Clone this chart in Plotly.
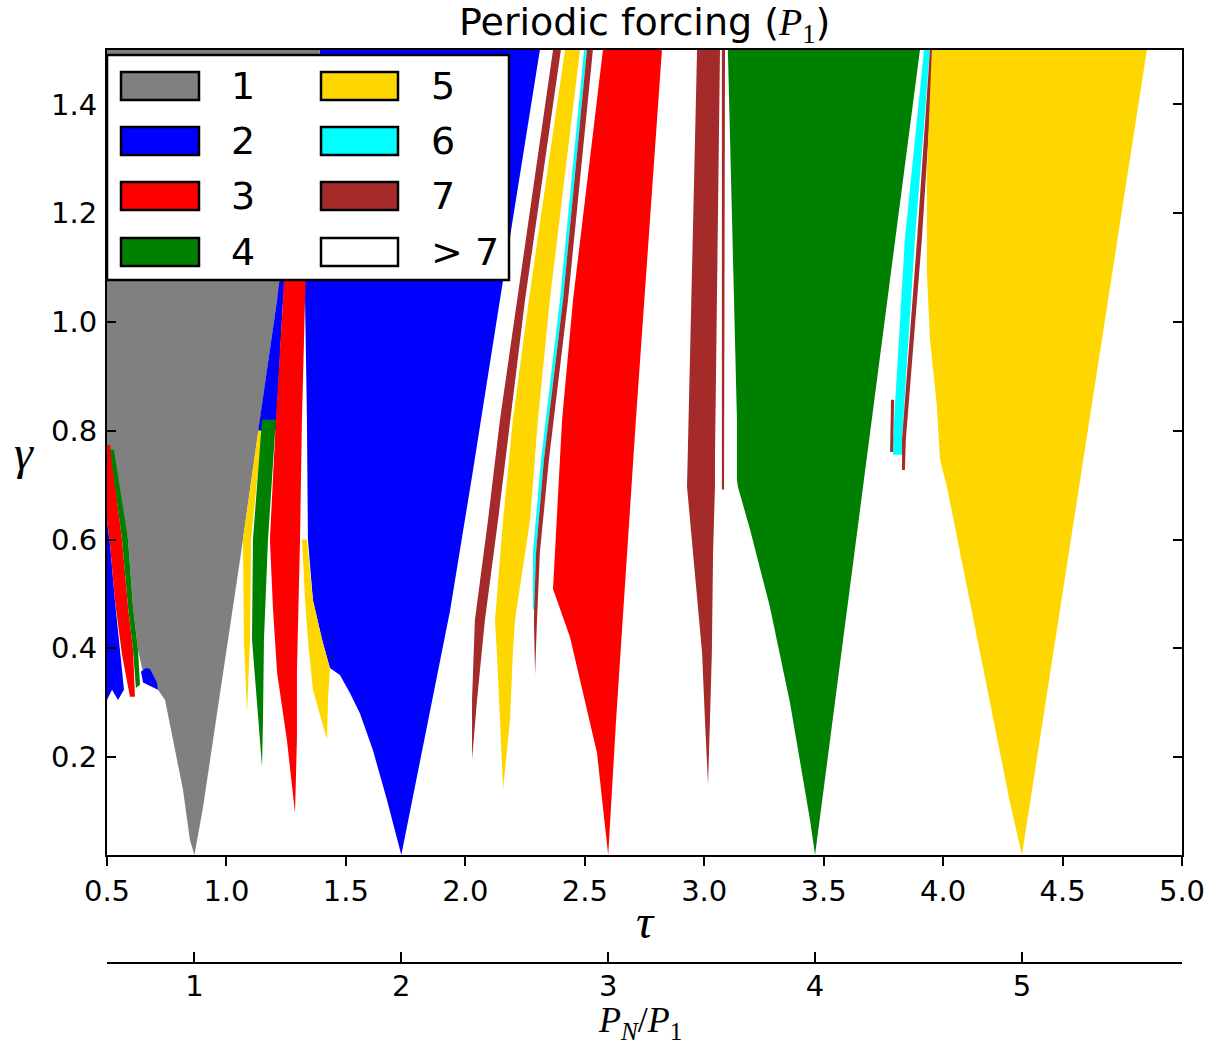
import numpy as np
import plotly.graph_objects as go

# ---------------------------------------------------------------------------
# Colour code for the number of periods of the response
# ---------------------------------------------------------------------------
period_labels = ["1", "2", "3", "4", "5", "6", "7", "> 7"]
period_colors = ["#808080", "#0000ff", "#ff0000", "#008000",
                 "#ffd700", "#00ffff", "#a52a2a", "#ffffff"]

# Axes
tau_range = [0.5, 5.0]
gamma_range = [0.02, 1.5]
tau_ticks = [0.5, 1.0, 1.5, 2.0, 2.5, 3.0, 3.5, 4.0, 4.5, 5.0]
gamma_ticks = [0.2, 0.4, 0.6, 0.8, 1.0, 1.2, 1.4]
ratio_ticks = [1, 2, 3, 4, 5]          # P_N / P_1
ratio_tip_gamma = [0.02, 0.02, 0.02, 0.02, 0.02]

# ---------------------------------------------------------------------------
# Locking regions: boundary polygons in the (tau, gamma) plane
# ---------------------------------------------------------------------------
# 1:1 tongue
p1_tau = [0.5, 1.392, 1.212, 1.057, 0.986, 0.944, 0.902, 0.866, 0.847, 0.818,
          0.776, 0.743, 0.713, 0.680, 0.651, 0.630, 0.609, 0.588, 0.5]
p1_gamma = [1.5, 1.5, 1.041, 0.563, 0.355, 0.232, 0.108, 0.02, 0.048, 0.140,
            0.232, 0.305, 0.324, 0.342, 0.355, 0.397, 0.476, 0.600, 0.774]

# 2:1 tongue
p2_tau = [1.392, 2.312, 2.145, 2.032, 1.936, 1.823, 1.732, 1.672, 1.613, 1.559,
          1.517, 1.475, 1.433, 1.400, 1.362, 1.341, 1.337, 1.329, 1.329]
p2_gamma = [1.5, 1.5, 1.041, 0.727, 0.469, 0.221, 0.02, 0.121, 0.213, 0.280,
            0.318, 0.351, 0.364, 0.416, 0.489, 0.600, 0.820, 1.041, 1.096]

# narrow period-2 band on the right flank of the 1:1 tongue
p2_band_tau = [1.228, 1.249, 1.237, 1.207, 1.133, 1.212]
p2_band_gamma = [1.096, 1.096, 1.041, 0.800, 0.800, 1.041]

# period-4 band between tongues 1 and 2
p4_band_a_tau = [1.149, 1.111, 1.107, 1.132, 1.149, 1.153, 1.157, 1.174, 1.207]
p4_band_a_gamma = [0.820, 0.600, 0.416, 0.268, 0.182, 0.268, 0.416, 0.600, 0.820]

# period-5 band along the 1:1 tongue
p5_band_a_tau = [1.133, 1.069, 1.073, 1.086, 1.099, 1.103, 1.150]
p5_band_a_gamma = [0.800, 0.600, 0.416, 0.281, 0.416, 0.600, 0.800]

# period-3 band between tongues 1 and 2
p3_band_a_tau = [1.241, 1.237, 1.207, 1.182, 1.195, 1.212, 1.253, 1.287, 1.295,
                 1.295, 1.308, 1.316, 1.329, 1.333]
p3_band_a_gamma = [1.096, 1.041, 0.820, 0.600, 0.471, 0.355, 0.232, 0.097, 0.232,
                   0.355, 0.600, 0.820, 1.041, 1.096]

# period-5 band on the left flank of the 2:1 tongue
p5_band_b_tau = [1.316, 1.329, 1.341, 1.362, 1.421, 1.425, 1.433, 1.400, 1.362, 1.337]
p5_band_b_gamma = [0.600, 0.489, 0.416, 0.324, 0.232, 0.305, 0.364, 0.416, 0.489, 0.600]

# bands on the left border (small tau)
p2_edge_tau = [0.5, 0.513, 0.533, 0.554, 0.571, 0.546, 0.521, 0.5]
p2_edge_gamma = [0.636, 0.590, 0.489, 0.397, 0.324, 0.305, 0.324, 0.305]

p3_edge_tau = [0.5, 0.513, 0.563, 0.588, 0.609, 0.617, 0.596, 0.563, 0.533, 0.513, 0.5]
p3_edge_gamma = [0.774, 0.774, 0.600, 0.476, 0.397, 0.311, 0.311, 0.388, 0.489,
                 0.590, 0.636]

p4_edge_tau = [0.513, 0.529, 0.588, 0.609, 0.630, 0.638, 0.621, 0.609, 0.588, 0.563]
p4_edge_gamma = [0.765, 0.765, 0.600, 0.476, 0.397, 0.333, 0.327, 0.397, 0.476, 0.600]

p2_knob_tau = [0.642, 0.663, 0.680, 0.709, 0.713, 0.680, 0.651]
p2_knob_gamma = [0.357, 0.364, 0.362, 0.337, 0.324, 0.331, 0.337]

# bands between tongues 2 and 3
p7_band_a_tau = [2.367, 2.216, 2.145, 2.095, 2.040, 2.028, 2.028, 2.049, 2.082,
                 2.137, 2.187, 2.250, 2.400]
p7_band_a_gamma = [1.5, 1.041, 0.820, 0.636, 0.452, 0.305, 0.195, 0.305, 0.452,
                   0.636, 0.820, 1.041, 1.5]

p5_band_c_tau = [2.417, 2.266, 2.199, 2.158, 2.124, 2.132, 2.145, 2.158, 2.187,
                 2.199, 2.208, 2.271, 2.304, 2.354, 2.480]
p5_band_c_gamma = [1.5, 1.041, 0.820, 0.636, 0.452, 0.392, 0.268, 0.140, 0.268,
                   0.392, 0.452, 0.636, 0.820, 1.041, 1.5]

p6_band_a_tau = [2.497, 2.396, 2.317, 2.283, 2.283, 2.292, 2.296, 2.329, 2.409, 2.509]
p6_band_a_gamma = [1.5, 1.041, 0.747, 0.576, 0.471, 0.471, 0.576, 0.747, 1.041, 1.5]

p7_band_b_tau = [2.509, 2.409, 2.329, 2.296, 2.287, 2.292, 2.300, 2.312, 2.350,
                 2.430, 2.534]
p7_band_b_gamma = [1.5, 1.041, 0.747, 0.576, 0.452, 0.351, 0.452, 0.576, 0.747,
                   1.041, 1.5]

# 3:1 tongue
p3_tau = [2.576, 2.451, 2.405, 2.367, 2.438, 2.492, 2.551, 2.598, 2.631, 2.714, 2.823]
p3_gamma = [1.5, 1.041, 0.820, 0.509, 0.421, 0.318, 0.208, 0.02, 0.268, 0.820, 1.5]

# period-7 tongue between 3 and 4
p7_tau = [2.970, 2.932, 2.928, 2.953, 2.991, 3.003, 3.016, 3.024, 3.032, 3.037,
          3.045, 3.045, 3.066]
p7_gamma = [1.5, 0.747, 0.697, 0.576, 0.392, 0.268, 0.149, 0.268, 0.392, 0.576,
            0.697, 0.747, 1.5]

p7_band_c_tau = [3.074, 3.087, 3.083, 3.074]
p7_band_c_gamma = [1.5, 1.5, 0.692, 0.692]

# 4:1 tongue
p4_tau = [3.099, 3.137, 3.137, 3.141, 3.192, 3.275, 3.359, 3.443, 3.464, 3.903]
p4_gamma = [1.5, 0.820, 0.710, 0.697, 0.618, 0.476, 0.300, 0.084, 0.02, 1.5]

# bands between tongues 4 and 5
p6_band_b_tau = [3.920, 3.840, 3.790, 3.790, 3.828, 3.828, 3.882, 3.945]
p6_band_b_gamma = [1.5, 1.152, 0.784, 0.756, 0.756, 0.784, 1.152, 1.5]

p7_band_d_tau = [3.945, 3.891, 3.828, 3.828, 3.840, 3.844, 3.911, 3.962]
p7_band_d_gamma = [1.5, 1.152, 0.784, 0.728, 0.728, 0.784, 1.152, 1.5]

p7_band_e_tau = [3.782, 3.795, 3.790, 3.778]
p7_band_e_gamma = [0.857, 0.857, 0.761, 0.761]

# 5:1 tongue
p5_tau = [3.953, 3.932, 3.932, 3.945, 3.974, 3.987, 4.016, 4.071, 4.142, 4.209,
          4.280, 4.330, 4.853]
p5_gamma = [1.5, 1.275, 1.091, 0.968, 0.844, 0.747, 0.697, 0.576, 0.421, 0.268,
            0.116, 0.02, 1.5]

# drawing order (later regions lie on top), with their period
regions = [
    (p1_tau, p1_gamma, 1),
    (p2_tau, p2_gamma, 2),
    (p2_band_tau, p2_band_gamma, 2),
    (p5_band_a_tau, p5_band_a_gamma, 5),
    (p4_band_a_tau, p4_band_a_gamma, 4),
    (p3_band_a_tau, p3_band_a_gamma, 3),
    (p5_band_b_tau, p5_band_b_gamma, 5),
    (p2_edge_tau, p2_edge_gamma, 2),
    (p3_edge_tau, p3_edge_gamma, 3),
    (p4_edge_tau, p4_edge_gamma, 4),
    (p2_knob_tau, p2_knob_gamma, 2),
    (p7_band_a_tau, p7_band_a_gamma, 7),
    (p5_band_c_tau, p5_band_c_gamma, 5),
    (p6_band_a_tau, p6_band_a_gamma, 6),
    (p7_band_b_tau, p7_band_b_gamma, 7),
    (p3_tau, p3_gamma, 3),
    (p7_tau, p7_gamma, 7),
    (p7_band_c_tau, p7_band_c_gamma, 7),
    (p4_tau, p4_gamma, 4),
    (p6_band_b_tau, p6_band_b_gamma, 6),
    (p7_band_d_tau, p7_band_d_gamma, 7),
    (p7_band_e_tau, p7_band_e_gamma, 7),
    (p5_tau, p5_gamma, 5),
]

fig = go.Figure()
for tau, gam, period in regions:
    fig.add_trace(go.Scatter(
        x=tau, y=gam, mode="lines", fill="toself",
        fillcolor=period_colors[period - 1],
        line=dict(width=0, color=period_colors[period - 1]),
        hoverinfo="skip", showlegend=False,
    ))

# invisible anchor trace for the period-ratio axis (tongue tips)
fig.add_trace(go.Scatter(
    x=ratio_ticks, y=ratio_tip_gamma, xaxis="x2", yaxis="y",
    mode="markers", marker=dict(opacity=0), hoverinfo="skip", showlegend=False,
))

ratio_range = [t * 2.0 / np.sqrt(3.0) for t in tau_range]

W, H = 1221, 1047
ML, MR, MT, MB = 107, 39, 50, 84
plot_bottom_px = 855
ydom0 = (H - MB - plot_bottom_px) / (H - MT - MB)

SANS = "DejaVu Sans"
SERIF = "Liberation Serif"

fig.update_layout(
    width=W, height=H,
    margin=dict(l=ML, r=MR, t=MT, b=MB),
    paper_bgcolor="white", plot_bgcolor="white",
    font=dict(family=SANS, size=29, color="black"),
    showlegend=False,
    xaxis=dict(
        range=tau_range, tickvals=tau_ticks, tickformat=".1f",
        showgrid=False, zeroline=False,
        showline=True, linewidth=2, linecolor="black", mirror=True,
        ticks="outside", ticklen=9, tickwidth=1.5, tickcolor="black",
        ticklabelstandoff=0,
    ),
    yaxis=dict(
        domain=[ydom0, 1.0],
        range=gamma_range, tickvals=gamma_ticks, tickformat=".1f",
        showgrid=False, zeroline=False,
        showline=True, linewidth=2, linecolor="black", mirror="ticks",
        ticks="inside", ticklen=9, tickwidth=1.5, tickcolor="black",
        ticklabelstandoff=2,
    ),
    xaxis2=dict(
        overlaying="x", anchor="free", position=0, side="bottom",
        range=ratio_range, tickvals=ratio_ticks,
        showgrid=False, zeroline=False,
        showline=True, linewidth=2, linecolor="black",
        ticks="inside", ticklen=10, tickwidth=1.5, tickcolor="black",
        ticklabelstandoff=-3,
    ),
)

# ---------------------------------------------------------------------------
# Titles
# ---------------------------------------------------------------------------
def px_to_dom(px, py):
    return (px - ML) / (W - ML - MR), (plot_bottom_px - py) / (plot_bottom_px - MT)

annotations = []
tx, ty = px_to_dom(644, 24)
annotations.append(dict(
    x=tx, y=ty, xref="x domain", yref="y domain", showarrow=False,
    text=("Periodic forcing (<span style='font-family:Liberation Serif'>"
          "<i>P</i><sub>1</sub></span>)"),
    font=dict(family=SANS, size=38), xanchor="center", yanchor="middle",
))
gx, gy = px_to_dom(24, 452)
annotations.append(dict(
    x=gx, y=gy, xref="x domain", yref="y domain", showarrow=False,
    text="<i>γ</i>", font=dict(family=SERIF, size=48),
    xanchor="center", yanchor="middle",
))
ux, uy = px_to_dom(645, 921)
annotations.append(dict(
    x=ux, y=uy, xref="x domain", yref="y domain", showarrow=False,
    text="<i>τ</i>", font=dict(family=SERIF, size=48),
    xanchor="center", yanchor="middle",
))
rx, ry = px_to_dom(640, 1023)
annotations.append(dict(
    x=rx, y=ry, xref="x domain", yref="y domain", showarrow=False,
    text="<i>P</i><sub><i>N</i></sub>/<i>P</i><sub>1</sub>",
    font=dict(family=SERIF, size=36), xanchor="center", yanchor="middle",
))

# ---------------------------------------------------------------------------
# Legend: two columns of colour patches
# ---------------------------------------------------------------------------
shapes = []
bx0, by1 = px_to_dom(107, 55)
bx1, by0 = px_to_dom(509, 280)
shapes.append(dict(type="rect", xref="x domain", yref="y domain",
                   x0=bx0, x1=bx1, y0=by0, y1=by1,
                   fillcolor="white", line=dict(color="black", width=2.5)))

col_patch_px = [(121, 199), (321, 398)]
col_text_px = [229, 429]
row_center_px = [86, 141, 196, 252]
patch_half_h = 14
for i, (lab, col) in enumerate(zip(period_labels, period_colors)):
    c, r = divmod(i, 4)
    x0, yc = px_to_dom(col_patch_px[c][0], row_center_px[r])
    x1, _ = px_to_dom(col_patch_px[c][1], row_center_px[r])
    _, ya = px_to_dom(0, row_center_px[r] + patch_half_h)
    _, yb = px_to_dom(0, row_center_px[r] - patch_half_h)
    shapes.append(dict(type="rect", xref="x domain", yref="y domain",
                       x0=x0, x1=x1, y0=ya, y1=yb, fillcolor=col,
                       line=dict(color="black", width=2.5)))
    lx, _ = px_to_dom(col_text_px[c], row_center_px[r])
    annotations.append(dict(
        x=lx, y=yc, xref="x domain", yref="y domain", showarrow=False,
        text=lab, font=dict(family=SANS, size=38),
        xanchor="left", yanchor="middle",
    ))

fig.update_layout(shapes=shapes, annotations=annotations)

fig.write_html("out.html")
